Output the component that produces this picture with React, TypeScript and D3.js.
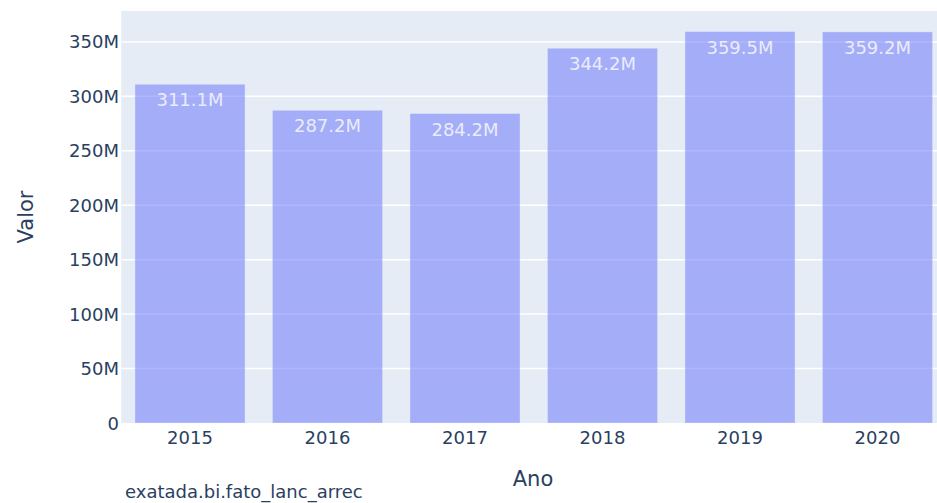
import React from "react";
import * as d3 from "d3";

const years = ["2015", "2016", "2017", "2018", "2019", "2020"];
const values = [311.1, 287.2, 284.2, 344.2, 359.5, 359.2]; // millions
const yTicks = [0, 50, 100, 150, 200, 250, 300, 350];
const xTitle = "Ano";
const yTitle = "Valor";
const sourceNote = "exatada.bi.fato_lanc_arrec";

const W = 937;
const H = 503;
const FONT = "'DejaVu Sans', Verdana, sans-serif";
const TXT = "#2a3f5f";

export default function App() {
  const left = 121.25;
  const right = 946.25;
  const top = 11;
  const bottom = 423;

  const x = d3.scaleBand<string>().domain(years).range([left, right]).paddingInner(0.2).paddingOuter(0.1);
  const y = d3.scaleLinear().domain([0, 378.4]).range([bottom, top]);

  const fmt = (v: number) => (v === 0 ? "0" : `${v}M`);

  return (
    <div style={{ position: "absolute", left: 0, top: 0 }}>
      <svg width={W} height={H} style={{ display: "block", fontFamily: FONT }}>
        <rect x={0} y={0} width={W} height={H} fill="#ffffff" />
        <defs>
          <clipPath id="plotclip">
            <rect x={left} y={top} width={right - left} height={bottom - top} />
          </clipPath>
        </defs>
        <rect x={left} y={top} width={right - left} height={bottom - top} fill="#e5ecf6" />
        {yTicks.map((t) =>
          t === 0 ? null : (
            <line key={`g${t}`} x1={left} x2={right} y1={y(t)} y2={y(t)} stroke="#ffffff" strokeWidth={1.5} />
          )
        )}
        <g clipPath="url(#plotclip)">
          {values.map((v, i) => (
            <rect
              key={years[i]}
              x={x(years[i])!}
              y={y(v)}
              width={x.bandwidth()}
              height={y(0) - y(v)}
              fill="#636efa"
              fillOpacity={0.5}
              stroke="#e5ecf6"
              strokeOpacity={0.5}
              strokeWidth={0.75}
            />
          ))}
          {values.map((v, i) => (
            <text
              key={`l${years[i]}`}
              x={x(years[i])! + x.bandwidth() / 2}
              y={y(v) + 22}
              textAnchor="middle"
              fontSize={18}
              fill="#eaecfb"
            >
              {`${v.toFixed(1)}M`}
            </text>
          ))}
        </g>
        {yTicks.map((t) => (
          <text key={`yt${t}`} x={119} y={y(t) + 6.5} textAnchor="end" fontSize={18} fill={TXT}>
            {fmt(t)}
          </text>
        ))}
        {years.map((yr) => (
          <text
            key={`xt${yr}`}
            x={x(yr)! + x.bandwidth() / 2}
            y={443.5}
            textAnchor="middle"
            fontSize={18}
            fill={TXT}
          >
            {yr}
          </text>
        ))}
        <text x={533} y={486} textAnchor="middle" fontSize={21} fill={TXT}>
          {xTitle}
        </text>
        <text
          transform={`translate(32.5, ${(top + bottom) / 2}) rotate(-90)`}
          textAnchor="middle"
          fontSize={21}
          fill={TXT}
        >
          {yTitle}
        </text>
        <text x={125} y={497.5} fontSize={18} fill={TXT}>
          {sourceNote}
        </text>
      </svg>
    </div>
  );
}
